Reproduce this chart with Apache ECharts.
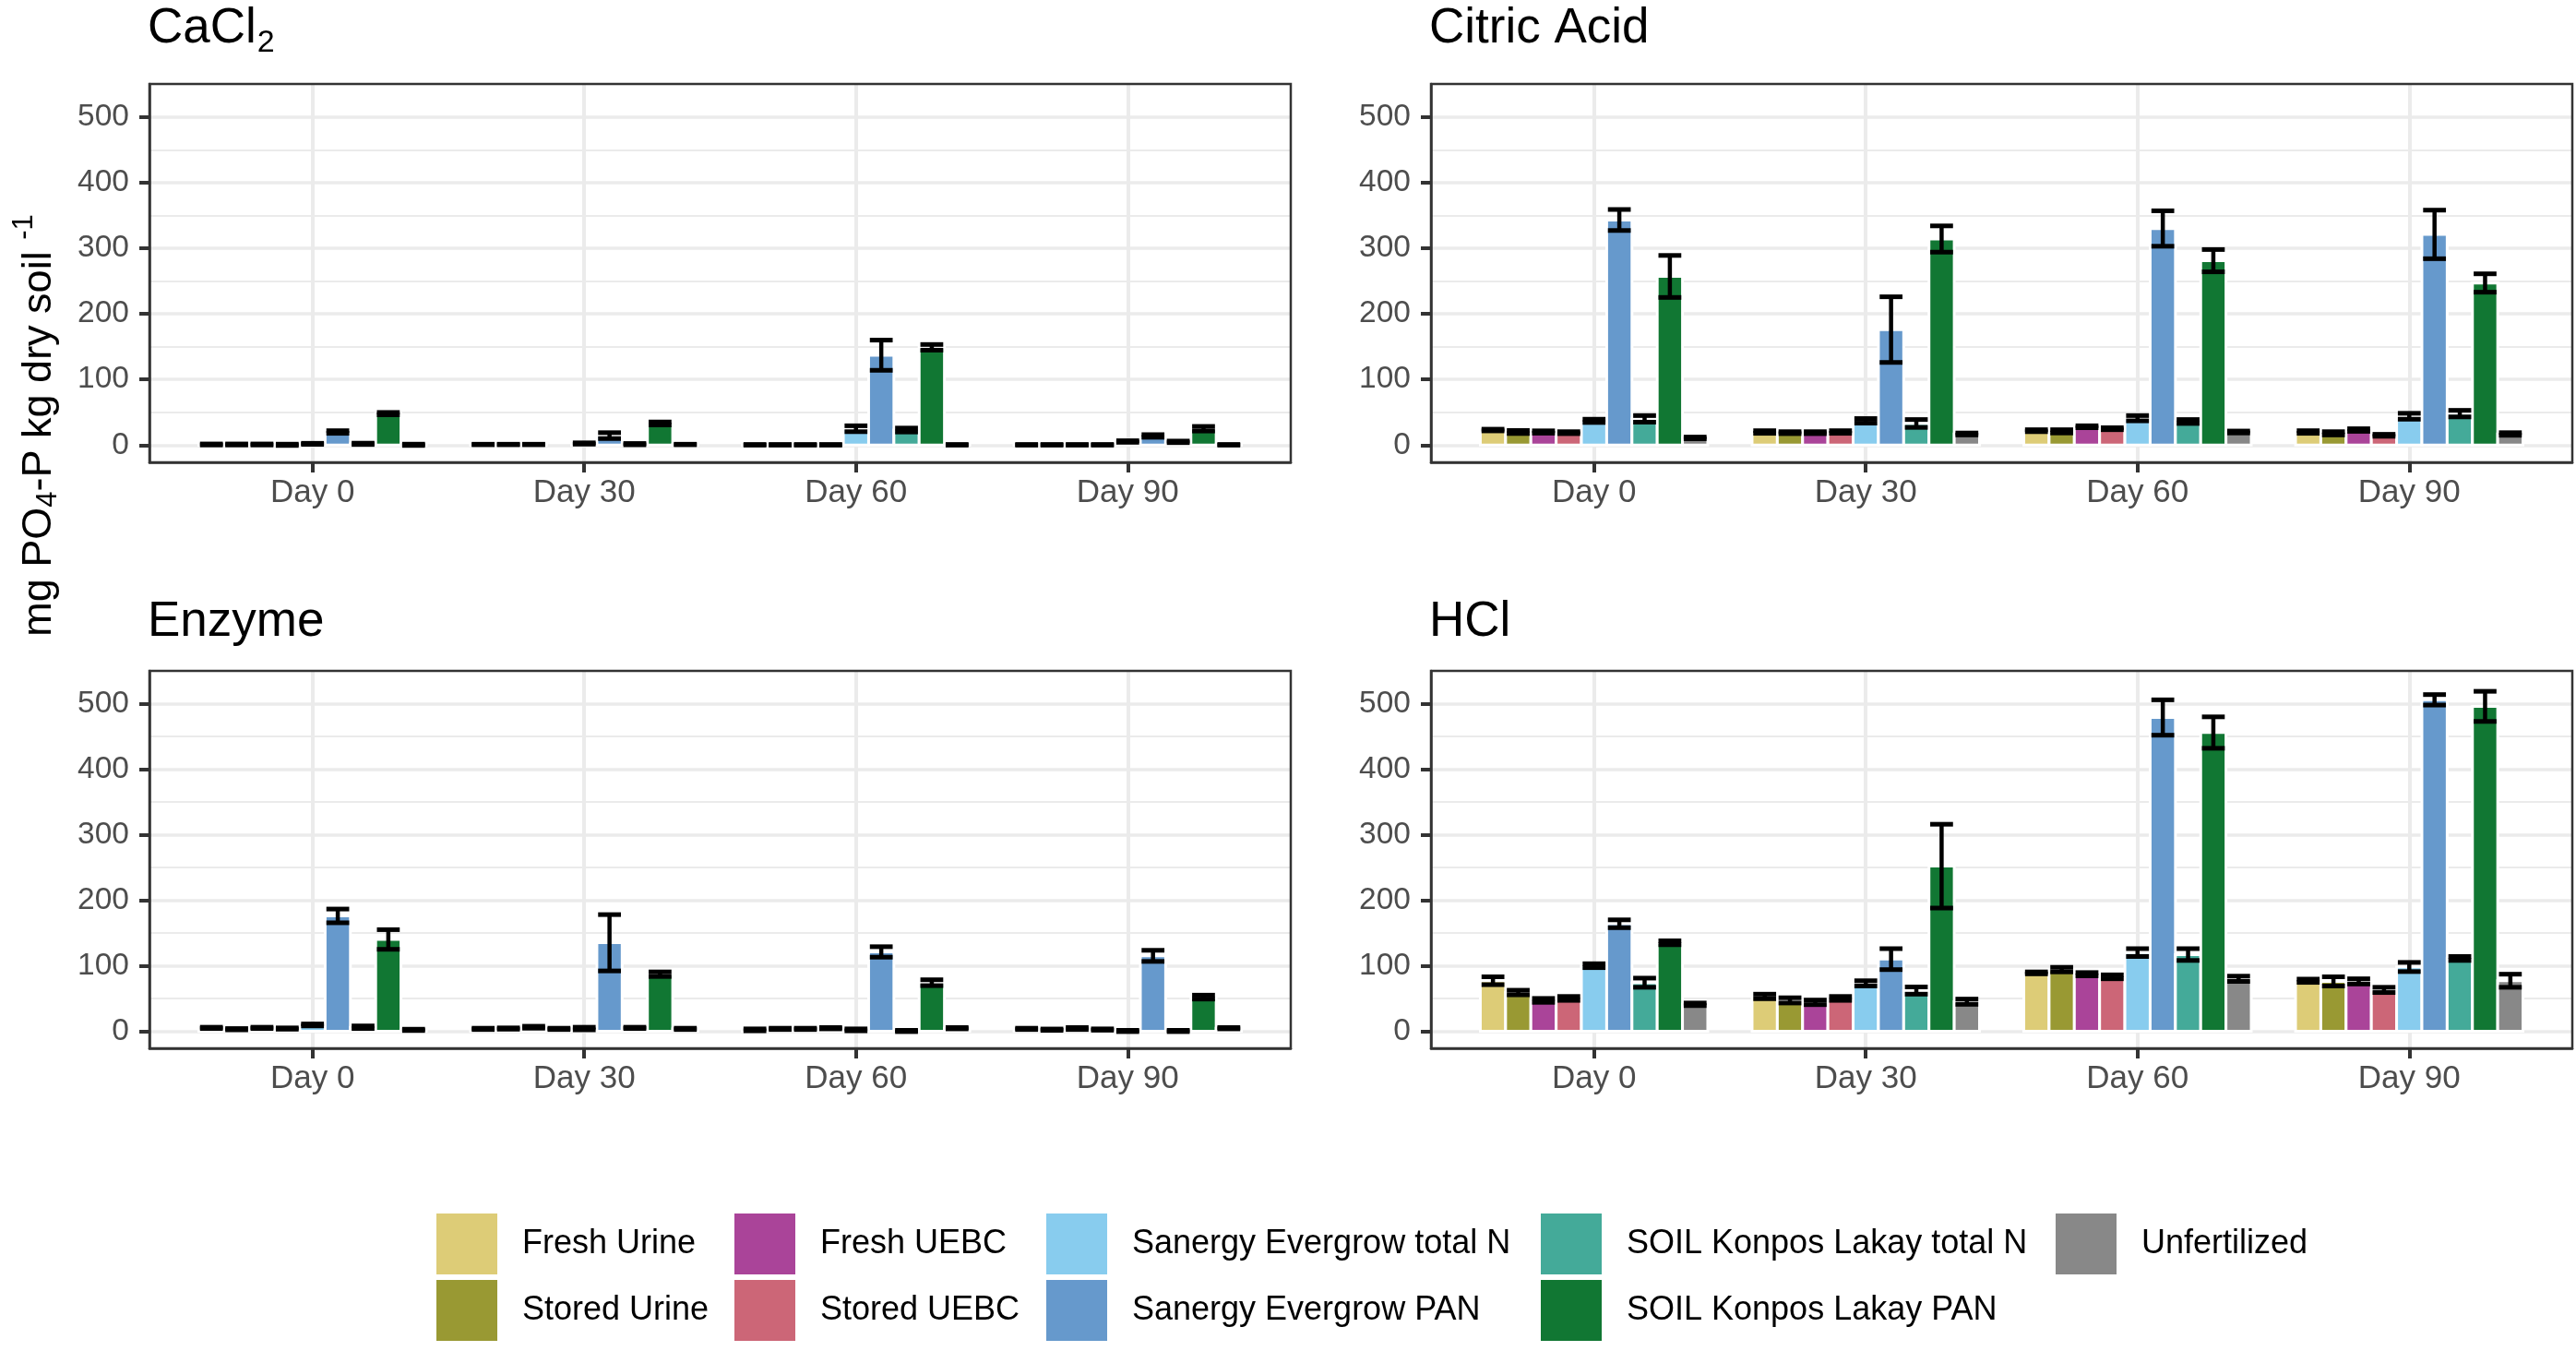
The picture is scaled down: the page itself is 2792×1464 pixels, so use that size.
<!DOCTYPE html>
<html lang="en">
<head>
<meta charset="UTF-8">
<title>PO4-P extractions</title>
<script src="https://cdn.jsdelivr.net/npm/echarts@6/dist/echarts.min.js"></script>
<style>
    html, body { margin: 0; padding: 0; background: #fff; }
    #chart { width: 2792px; height: 1464px; }
</style>
</head>
<body>
<div id="chart"></div>
<script>
    var days = ['Day 0', 'Day 30', 'Day 60', 'Day 90'];
    var treatments = ['Fresh Urine', 'Stored Urine', 'Fresh UEBC', 'Stored UEBC',
        'Sanergy Evergrow total N', 'Sanergy Evergrow PAN',
        'SOIL Konpos Lakay total N', 'SOIL Konpos Lakay PAN', 'Unfertilized'];
    var colors = ['#DDCC77', '#999933', '#AA4499', '#CC6677', '#88CCEE', '#6699CC', '#44AA99', '#117733', '#888888'];
    var yTicks = [0, 100, 200, 300, 400, 500];
    var yMinorTicks = [50, 150, 250, 350, 450];
    var yRange = [-26.2, 550.2];

    // one row per day, one column per treatment (same order as treatments)
    var cacl2Mean = [
        [1, 1, 1, 0.5, 2, 20, 2, 48, 0.5],
        [1, 1, 1, null, 2.5, 14.5, 1.5, 33, 1],
        [0.5, 0.5, 0.5, 0.5, 25, 137, 23, 149, 0.5],
        [0.5, 0.5, 0.5, 0.5, 5.5, 14, 5, 25, 0.5]
    ];
    var cacl2Sd = [
        [0.8, 0.8, 0.8, 1, 0.8, 2, 1, 1.8, 1],
        [0.4, 0.4, 0.4, null, 1, 4.5, 1, 2.3, 0.4],
        [0.5, 0.5, 0.5, 0.5, 4.5, 23, 3, 4.3, 0.5],
        [0.5, 0.5, 0.5, 0.5, 1.2, 2, 1.2, 3.5, 0.5]
    ];
    var citricMean = [
        [23, 20, 20, 19, 37, 343, 40, 257, 11],
        [20, 19, 19, 20, 37, 176, 33, 314, 17],
        [22, 21, 28, 25, 41, 330, 36, 281, 20],
        [20, 18, 23, 15, 44, 321, 48, 247, 17]
    ];
    var citricSd = [
        [1.3, 2.3, 1.8, 1.5, 2.5, 16, 5, 32, 1.3],
        [2, 1.5, 1.5, 2, 3.5, 50, 6, 20, 1.5],
        [1.5, 2.5, 1.5, 1.5, 4, 27, 3, 17, 1.5],
        [2, 2.5, 2, 1.5, 4.5, 37, 5, 14, 2]
    ];
    var enzymeMean = [
        [5, 3, 5, 4, 9.5, 176, 6, 140, 2],
        [3.5, 4, 6, 3.5, 4, 135, 5, 87, 3.5],
        [2, 3.5, 3.5, 4.5, 2, 121, 0.3, 74, 4.5],
        [3.5, 2.3, 4, 2.5, 0.3, 115, 0.3, 52, 4.5]
    ];
    var enzymeSd = [
        [1, 1, 1, 1, 1.5, 10.5, 2, 15, 1],
        [1, 1, 1.5, 1, 2, 43, 1, 3.5, 1],
        [1.5, 1, 1, 1, 1.5, 8, 1, 4.5, 1],
        [1, 1, 1.5, 1, 1, 8.5, 1, 3, 1]
    ];
    var hclMean = [
        [77, 59, 47, 50, 100, 164, 74, 135, 41],
        [53, 47, 44, 50, 73, 110, 62, 252, 45],
        [89, 94, 87, 83, 120, 479, 117, 456, 80],
        [77, 76, 76, 63, 98, 506, 111, 496, 77]
    ];
    var hclSd = [
        [6, 3.5, 3, 3, 3, 6, 7, 3, 2],
        [3.5, 4, 3.5, 3, 4, 16, 5.5, 64, 4],
        [1.5, 3.5, 2.5, 3, 6, 27, 9, 24, 4],
        [2.5, 7, 4, 4, 7, 8, 3, 23, 10]
    ];

    var legendCols = [
        ['Fresh Urine', 'Stored Urine'],
        ['Fresh UEBC', 'Stored UEBC'],
        ['Sanergy Evergrow total N', 'Sanergy Evergrow PAN'],
        ['SOIL Konpos Lakay total N', 'SOIL Konpos Lakay PAN'],
        ['Unfertilized']
    ];

    var FONT = '"Liberation Sans", Arial, sans-serif';
    var barStep = 0.093;   // width of one dodged bar, in category units
    var capWidth = 0.084;

    var panels = [
        { title: '{m|CaCl}{s|2}', mean: cacl2Mean, sd: cacl2Sd, left: 162, top: 91, height: 410, titleTop: 5 },
        { title: 'Citric Acid', mean: citricMean, sd: citricSd, left: 1551, top: 91, height: 410, titleTop: 5 },
        { title: 'Enzyme', mean: enzymeMean, sd: enzymeSd, left: 162, top: 727, height: 409, titleTop: 648 },
        { title: 'HCl', mean: hclMean, sd: hclSd, left: 1551, top: 727, height: 409, titleTop: 648 }
    ];

    var myChart = echarts.init(document.getElementById('chart'), null, { renderer: 'canvas' });

    var grids = [], xAxes = [], yAxes = [], titles = [], series = [];

    panels.forEach(function (p, g) {
        grids.push({
            left: p.left, top: p.top, width: 1237, height: p.height,
            show: true, z: 10, backgroundColor: 'transparent',
            borderColor: '#333333', borderWidth: 2.5,
            outerBoundsMode: 'none'
        });
        xAxes.push({
            type: 'value', gridIndex: g, min: -0.6, max: 3.6, interval: 1,
            axisLine: { show: true, onZero: false, lineStyle: { color: '#333333', width: 2.5 } },
            axisTick: { show: true, length: 11, customValues: [0, 1, 2, 3], lineStyle: { color: '#333333', width: 4 } },
            axisLabel: {
                customValues: [0, 1, 2, 3], margin: 16, fontSize: 35, color: '#4D4D4D', fontFamily: FONT,
                formatter: function (v) { return days[Math.round(v)]; }
            },
            splitLine: { show: true, lineStyle: { color: '#EBEBEB', width: 4 } }
        });
        yAxes.push({
            type: 'value', gridIndex: g, min: yRange[0], max: yRange[1], interval: 100,
            axisLine: { show: true, onZero: false, lineStyle: { color: '#333333', width: 2.5 } },
            axisTick: { show: true, length: 11, customValues: yTicks, lineStyle: { color: '#333333', width: 4 } },
            axisLabel: { customValues: yTicks, margin: 22, fontSize: 33.5, color: '#4D4D4D', fontFamily: FONT },
            splitLine: { show: true, lineStyle: { color: '#EBEBEB', width: 3.5 } }
        });
        // minor grid lines
        yAxes.push({
            type: 'value', gridIndex: g, min: yRange[0], max: yRange[1], interval: 50, position: 'left',
            axisLine: { show: false },
            axisTick: { show: false, customValues: yMinorTicks },
            axisLabel: { show: false },
            splitLine: { show: true, lineStyle: { color: '#EBEBEB', width: 2.2 } }
        });

        titles.push({
            text: p.title, left: p.left - 2, top: p.titleTop, padding: 0,
            textStyle: {
                fontSize: 53, fontWeight: 'normal', color: '#000', fontFamily: FONT, lineHeight: 53,
                rich: {
                    m: { fontSize: 53, fontFamily: FONT, color: '#000', lineHeight: 53, verticalAlign: 'top' },
                    s: { fontSize: 34, fontFamily: FONT, color: '#000', lineHeight: 34, padding: [25, 0, 0, 1], verticalAlign: 'top' }
                }
            }
        });

        // bars, one series per treatment
        treatments.forEach(function (name, k) {
            var data = [];
            p.mean.forEach(function (row, d) {
                if (row[k] !== null) data.push([d, row[k]]);
            });
            series.push({
                name: name, type: 'custom', xAxisIndex: g, yAxisIndex: 2 * g,
                itemStyle: { color: colors[k] },
                encode: { x: 0, y: 1 },
                data: data,
                z: 2,
                renderItem: function (params, api) {
                    var cx = api.value(0) + (k - 4) * barStep;
                    var v = api.value(1);
                    var a = api.coord([cx - barStep / 2, v]);
                    var b = api.coord([cx + barStep / 2, 0]);
                    return {
                        type: 'rect',
                        shape: { x: a[0], y: Math.min(a[1], b[1]), width: b[0] - a[0], height: Math.abs(b[1] - a[1]) },
                        style: { fill: colors[k], stroke: '#ffffff', lineWidth: 3 }
                    };
                }
            });
        });

        // error bars (mean +/- sd)
        var err = [];
        p.mean.forEach(function (row, d) {
            row.forEach(function (m, k) {
                if (m === null) return;
                var s = p.sd[d][k];
                err.push([d + (k - 4) * barStep, m - s, m + s]);
            });
        });
        series.push({
            name: 'sd', type: 'custom', xAxisIndex: g, yAxisIndex: 2 * g,
            encode: { x: 0, y: [1, 2] },
            data: err,
            z: 3,
            renderItem: function (params, api) {
                var x = api.value(0);
                var lo = api.coord([x, api.value(1)]);
                var hi = api.coord([x, api.value(2)]);
                var half = api.size([capWidth, 0])[0] / 2;
                var st = { stroke: '#000000', lineWidth: 5 };
                return {
                    type: 'group',
                    children: [
                        { type: 'line', shape: { x1: hi[0], y1: hi[1], x2: lo[0], y2: lo[1] }, style: { stroke: '#000000', lineWidth: 4.5 } },
                        { type: 'line', shape: { x1: hi[0] - half, y1: hi[1], x2: hi[0] + half, y2: hi[1] }, style: st },
                        { type: 'line', shape: { x1: lo[0] - half, y1: lo[1], x2: lo[0] + half, y2: lo[1] }, style: st }
                    ]
                };
            }
        });
    });

    var legendLeft = [473, 796, 1134, 1670, 2228];
    var legends = legendCols.map(function (col, c) {
        return {
            data: col, orient: 'vertical', left: legendLeft[c], top: 1315,
            itemWidth: 66, itemHeight: 66, itemGap: 6, icon: 'rect',
            selectedMode: false, padding: 0,
            textStyle: { fontSize: 36, color: '#000', fontFamily: FONT, padding: [0, 0, 0, 22] }
        };
    });

    var option = {
        animation: false,
        backgroundColor: '#ffffff',
        title: titles,
        grid: grids,
        xAxis: xAxes,
        yAxis: yAxes,
        legend: legends,
        graphic: [{
            type: 'text', x: 33.3, y: 461, rotation: Math.PI / 2,
            style: {
                text: '{n|mg PO}{b|4}{n|-P kg dry soil }{p|-1}',
                align: 'center', verticalAlign: 'middle', fill: '#000',
                rich: {
                    n: { fontSize: 45, fontFamily: FONT, fill: '#000', lineHeight: 45, padding: [9, 0, 0, 0], verticalAlign: 'top' },
                    b: { fontSize: 31, fontFamily: FONT, fill: '#000', lineHeight: 31, padding: [26, 0, 0, 0], verticalAlign: 'top' },
                    p: { fontSize: 31, fontFamily: FONT, fill: '#000', lineHeight: 31, verticalAlign: 'top' }
                }
            }
        }],
        series: series
    };

    myChart.setOption(option, true);
</script>
</body>
</html>
